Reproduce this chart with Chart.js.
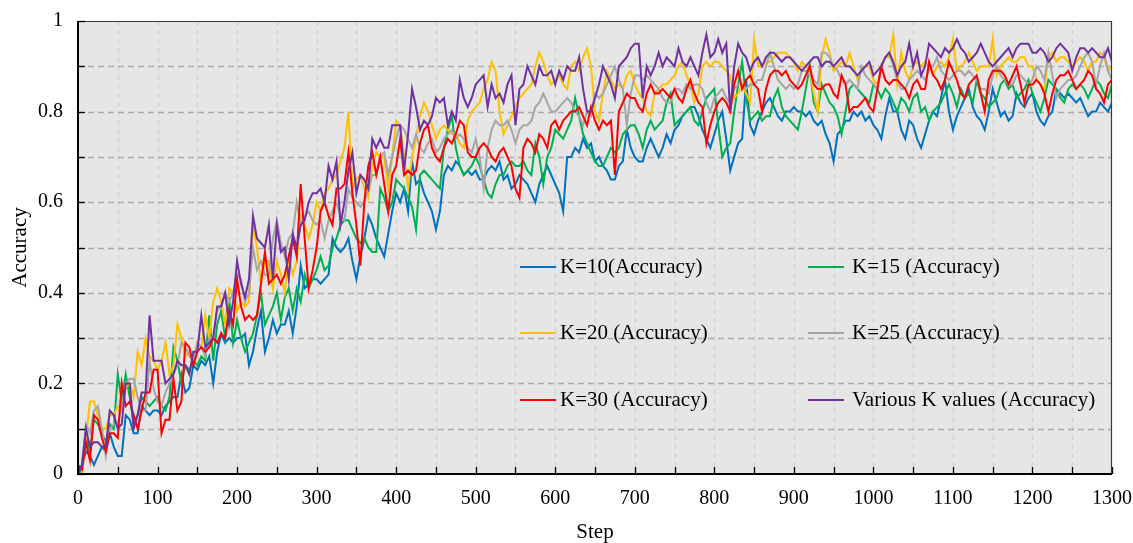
<!DOCTYPE html>
<html>
<head>
<meta charset="utf-8">
<script src="https://cdn.jsdelivr.net/npm/chart.js@4.4.1/dist/chart.umd.min.js"></script>
<style>
html,body{margin:0;padding:0;background:#fff;}
#wrap{width:1133px;height:543px;position:relative;}
</style>
</head>
<body>
<div id="wrap"><canvas id="c" width="1133" height="543"></canvas></div>
<script>
// ---- categories (training steps, every 5 steps from 0 to 1300) ----
const steps = [];
for (let s = 0; s <= 1300; s += 5) steps.push(s);

// ---- tick labels ----
const xTickLabels = ['0','','100','','200','','300','','400','','500','','600','','700','','800','','900','','1000','','1100','','1200','','1300'];
const yTickLabels = ['0','','0.2','','0.4','','0.6','','0.8','','1'];

// ---- series values (Accuracy) ----
const k10 = [
0.01,0.02,0.05,0.04,0.02,0.04,0.06,0.05,0.09,0.06,0.04,0.04,0.13,0.12,0.09,0.09,0.15,0.14,0.13,0.14,
0.14,0.13,0.15,0.16,0.17,0.17,0.22,0.18,0.19,0.24,0.23,0.25,0.24,0.26,0.20,0.27,0.31,0.29,0.30,0.29,
0.30,0.30,0.31,0.24,0.27,0.32,0.36,0.27,0.30,0.34,0.31,0.33,0.33,0.36,0.31,0.37,0.46,0.41,0.42,0.43,
0.43,0.42,0.43,0.44,0.52,0.50,0.49,0.50,0.52,0.47,0.43,0.48,0.52,0.57,0.55,0.52,0.50,0.48,0.53,0.58,
0.62,0.60,0.63,0.58,0.69,0.64,0.65,0.62,0.60,0.58,0.54,0.58,0.66,0.68,0.67,0.69,0.68,0.66,0.67,0.66,
0.67,0.65,0.65,0.67,0.68,0.67,0.69,0.65,0.66,0.63,0.64,0.66,0.65,0.64,0.62,0.60,0.64,0.66,0.68,0.66,
0.64,0.62,0.58,0.70,0.70,0.72,0.71,0.74,0.72,0.73,0.69,0.70,0.68,0.67,0.65,0.65,0.68,0.69,0.76,0.72,
0.70,0.69,0.69,0.72,0.74,0.72,0.70,0.72,0.75,0.73,0.76,0.77,0.79,0.80,0.81,0.81,0.79,0.76,0.74,0.72,
0.75,0.78,0.80,0.74,0.67,0.70,0.73,0.74,0.87,0.77,0.75,0.78,0.80,0.82,0.83,0.81,0.79,0.78,0.80,0.80,
0.81,0.80,0.80,0.79,0.80,0.78,0.77,0.78,0.75,0.73,0.69,0.75,0.76,0.78,0.78,0.80,0.79,0.80,0.78,0.79,
0.77,0.76,0.74,0.79,0.83,0.80,0.80,0.76,0.74,0.78,0.77,0.74,0.72,0.75,0.78,0.80,0.79,0.83,0.87,0.80,
0.76,0.79,0.81,0.83,0.85,0.81,0.79,0.78,0.76,0.80,0.85,0.82,0.79,0.80,0.78,0.79,0.84,0.82,0.81,0.83,
0.84,0.80,0.78,0.77,0.79,0.80,0.85,0.84,0.83,0.84,0.83,0.82,0.83,0.81,0.79,0.80,0.80,0.82,0.81,0.80,
0.82];
const k15 = [
0.00,0.01,0.08,0.05,0.12,0.11,0.09,0.07,0.11,0.10,0.22,0.16,0.22,0.17,0.11,0.13,0.17,0.16,0.15,0.16,
0.17,0.15,0.14,0.17,0.28,0.25,0.20,0.24,0.23,0.25,0.24,0.26,0.25,0.35,0.25,0.33,0.36,0.30,0.39,0.29,
0.34,0.30,0.27,0.29,0.31,0.35,0.40,0.33,0.35,0.37,0.40,0.34,0.39,0.41,0.36,0.41,0.38,0.44,0.41,0.43,
0.45,0.48,0.45,0.46,0.50,0.52,0.55,0.56,0.56,0.54,0.52,0.51,0.52,0.50,0.49,0.49,0.63,0.61,0.58,0.60,
0.65,0.64,0.63,0.61,0.59,0.54,0.66,0.67,0.66,0.65,0.64,0.63,0.72,0.76,0.79,0.72,0.68,0.66,0.67,0.68,
0.70,0.68,0.65,0.62,0.61,0.64,0.66,0.66,0.68,0.69,0.68,0.68,0.69,0.67,0.66,0.73,0.70,0.64,0.70,0.72,
0.76,0.75,0.74,0.76,0.78,0.83,0.79,0.75,0.73,0.71,0.69,0.68,0.68,0.70,0.72,0.71,0.72,0.75,0.76,0.77,
0.77,0.75,0.72,0.76,0.78,0.76,0.77,0.78,0.82,0.84,0.77,0.78,0.79,0.80,0.81,0.78,0.77,0.80,0.83,0.84,
0.85,0.77,0.70,0.72,0.73,0.80,0.86,0.91,0.83,0.78,0.79,0.80,0.78,0.79,0.79,0.83,0.85,0.81,0.79,0.78,
0.77,0.76,0.80,0.85,0.90,0.82,0.80,0.86,0.84,0.82,0.81,0.79,0.75,0.80,0.85,0.86,0.85,0.84,0.83,0.82,
0.86,0.85,0.83,0.85,0.84,0.82,0.80,0.83,0.82,0.80,0.83,0.84,0.80,0.81,0.78,0.80,0.81,0.82,0.84,0.86,
0.84,0.81,0.85,0.83,0.84,0.82,0.87,0.84,0.83,0.81,0.82,0.83,0.86,0.87,0.85,0.86,0.83,0.84,0.85,0.87,
0.84,0.82,0.80,0.83,0.87,0.86,0.85,0.83,0.82,0.85,0.86,0.85,0.86,0.85,0.83,0.85,0.87,0.86,0.84,0.83,
0.86];
const k20 = [
0.00,0.00,0.08,0.16,0.16,0.13,0.10,0.10,0.13,0.13,0.15,0.14,0.19,0.20,0.17,0.27,0.24,0.30,0.26,0.25,
0.23,0.25,0.29,0.22,0.24,0.33,0.30,0.26,0.27,0.25,0.29,0.28,0.35,0.30,0.38,0.41,0.38,0.33,0.41,0.40,
0.36,0.38,0.37,0.38,0.55,0.50,0.42,0.47,0.47,0.41,0.47,0.44,0.40,0.48,0.44,0.47,0.57,0.55,0.52,0.55,
0.60,0.58,0.62,0.63,0.65,0.66,0.69,0.72,0.80,0.63,0.65,0.66,0.63,0.61,0.68,0.71,0.70,0.70,0.63,0.70,
0.78,0.77,0.70,0.63,0.70,0.74,0.79,0.82,0.80,0.77,0.74,0.76,0.77,0.76,0.75,0.75,0.73,0.72,0.78,0.80,
0.81,0.82,0.85,0.87,0.91,0.89,0.80,0.75,0.77,0.79,0.81,0.83,0.84,0.85,0.86,0.90,0.93,0.91,0.88,0.86,
0.87,0.88,0.86,0.85,0.90,0.91,0.89,0.92,0.94,0.90,0.80,0.78,0.84,0.89,0.87,0.85,0.86,0.85,0.88,0.89,
0.86,0.84,0.83,0.80,0.79,0.84,0.85,0.86,0.86,0.87,0.88,0.90,0.91,0.88,0.86,0.82,0.84,0.90,0.91,0.90,
0.91,0.91,0.90,0.89,0.88,0.83,0.84,0.86,0.84,0.82,0.96,0.90,0.90,0.91,0.91,0.92,0.93,0.93,0.93,0.92,
0.91,0.89,0.91,0.90,0.89,0.84,0.80,0.92,0.96,0.93,0.89,0.90,0.91,0.90,0.93,0.90,0.87,0.89,0.90,0.90,
0.87,0.86,0.90,0.92,0.92,0.97,0.86,0.93,0.89,0.87,0.90,0.91,0.90,0.91,0.90,0.88,0.90,0.91,0.90,0.92,
0.96,0.89,0.90,0.91,0.93,0.91,0.89,0.90,0.90,0.90,0.96,0.88,0.90,0.91,0.92,0.91,0.91,0.92,0.92,0.90,
0.90,0.87,0.86,0.85,0.92,0.93,0.91,0.92,0.92,0.91,0.90,0.91,0.92,0.91,0.89,0.91,0.91,0.93,0.92,0.89,
0.90];
const k25 = [
0.00,0.02,0.11,0.09,0.14,0.15,0.10,0.04,0.10,0.11,0.11,0.15,0.20,0.21,0.21,0.17,0.14,0.14,0.25,0.19,
0.16,0.15,0.18,0.20,0.22,0.24,0.29,0.28,0.26,0.25,0.29,0.28,0.26,0.30,0.30,0.36,0.37,0.40,0.38,0.40,
0.44,0.43,0.38,0.40,0.50,0.45,0.47,0.44,0.44,0.52,0.56,0.51,0.48,0.52,0.53,0.60,0.55,0.57,0.58,0.56,
0.55,0.56,0.52,0.56,0.58,0.60,0.57,0.56,0.63,0.61,0.60,0.59,0.60,0.63,0.66,0.66,0.70,0.71,0.66,0.70,
0.74,0.77,0.76,0.74,0.72,0.75,0.72,0.71,0.73,0.74,0.71,0.72,0.74,0.75,0.76,0.74,0.75,0.74,0.72,0.71,
0.74,0.70,0.63,0.72,0.76,0.78,0.77,0.77,0.78,0.76,0.73,0.76,0.77,0.77,0.78,0.81,0.82,0.84,0.82,0.80,
0.80,0.81,0.82,0.83,0.82,0.80,0.79,0.77,0.80,0.79,0.84,0.83,0.84,0.86,0.88,0.90,0.87,0.85,0.77,0.84,
0.88,0.88,0.87,0.88,0.87,0.86,0.85,0.83,0.82,0.82,0.85,0.85,0.84,0.86,0.85,0.86,0.86,0.85,0.82,0.80,
0.83,0.84,0.85,0.83,0.82,0.85,0.86,0.86,0.85,0.86,0.86,0.87,0.87,0.90,0.93,0.90,0.87,0.86,0.85,0.86,
0.85,0.86,0.89,0.89,0.88,0.87,0.86,0.93,0.93,0.92,0.90,0.89,0.87,0.86,0.87,0.86,0.85,0.90,0.88,0.87,
0.86,0.85,0.90,0.92,0.93,0.90,0.87,0.85,0.85,0.87,0.88,0.89,0.88,0.87,0.89,0.90,0.92,0.89,0.88,0.87,
0.88,0.89,0.89,0.88,0.89,0.88,0.87,0.85,0.85,0.84,0.88,0.90,0.88,0.87,0.86,0.86,0.88,0.88,0.87,0.86,
0.87,0.90,0.89,0.87,0.93,0.88,0.83,0.85,0.86,0.87,0.87,0.88,0.90,0.92,0.93,0.91,0.86,0.90,0.93,0.89,
0.87];
const k30 = [
0.02,0.01,0.07,0.03,0.13,0.12,0.08,0.05,0.09,0.09,0.08,0.20,0.15,0.16,0.13,0.10,0.14,0.18,0.18,0.23,
0.23,0.09,0.12,0.12,0.21,0.14,0.16,0.29,0.28,0.24,0.27,0.28,0.27,0.28,0.30,0.29,0.31,0.30,0.36,0.33,
0.43,0.37,0.34,0.35,0.34,0.35,0.42,0.49,0.42,0.43,0.44,0.42,0.44,0.48,0.52,0.48,0.64,0.52,0.41,0.45,
0.50,0.58,0.60,0.57,0.55,0.63,0.63,0.64,0.71,0.62,0.55,0.46,0.60,0.68,0.71,0.66,0.70,0.64,0.58,0.66,
0.68,0.74,0.66,0.67,0.66,0.67,0.73,0.76,0.77,0.72,0.70,0.69,0.72,0.74,0.73,0.75,0.78,0.77,0.71,0.70,
0.70,0.72,0.73,0.72,0.70,0.69,0.71,0.72,0.70,0.68,0.63,0.61,0.72,0.74,0.73,0.71,0.75,0.74,0.72,0.77,
0.78,0.76,0.78,0.79,0.80,0.80,0.81,0.79,0.77,0.81,0.78,0.76,0.78,0.77,0.78,0.66,0.80,0.82,0.84,0.83,
0.83,0.81,0.80,0.84,0.86,0.84,0.84,0.85,0.84,0.83,0.85,0.83,0.82,0.85,0.87,0.84,0.82,0.81,0.73,0.77,
0.80,0.82,0.83,0.82,0.80,0.86,0.89,0.85,0.87,0.88,0.86,0.85,0.80,0.85,0.88,0.89,0.89,0.88,0.89,0.87,
0.86,0.85,0.86,0.88,0.90,0.86,0.85,0.85,0.86,0.86,0.84,0.83,0.88,0.86,0.80,0.81,0.81,0.82,0.83,0.81,
0.80,0.85,0.90,0.87,0.86,0.87,0.87,0.86,0.85,0.83,0.86,0.87,0.85,0.85,0.91,0.88,0.87,0.85,0.87,0.91,
0.89,0.87,0.84,0.83,0.86,0.87,0.88,0.84,0.80,0.87,0.89,0.89,0.89,0.88,0.86,0.88,0.90,0.86,0.82,0.86,
0.86,0.87,0.86,0.84,0.80,0.84,0.87,0.88,0.88,0.89,0.87,0.85,0.86,0.87,0.89,0.88,0.85,0.84,0.82,0.86,
0.87];
const kVarious = [
0.00,0.02,0.10,0.06,0.07,0.07,0.06,0.06,0.14,0.13,0.10,0.11,0.20,0.20,0.10,0.13,0.18,0.18,0.35,0.25,
0.25,0.25,0.20,0.21,0.22,0.25,0.24,0.24,0.22,0.27,0.27,0.35,0.28,0.29,0.30,0.37,0.37,0.40,0.33,0.38,
0.47,0.42,0.39,0.43,0.57,0.52,0.51,0.50,0.55,0.43,0.55,0.49,0.50,0.43,0.53,0.50,0.55,0.56,0.60,0.62,
0.62,0.63,0.60,0.68,0.65,0.69,0.55,0.60,0.67,0.71,0.62,0.66,0.65,0.63,0.74,0.72,0.74,0.72,0.72,0.77,
0.77,0.77,0.67,0.75,0.85,0.81,0.76,0.78,0.77,0.79,0.83,0.82,0.83,0.77,0.80,0.78,0.87,0.83,0.81,0.83,
0.86,0.87,0.88,0.81,0.86,0.83,0.84,0.82,0.86,0.88,0.77,0.85,0.86,0.90,0.88,0.86,0.90,0.88,0.88,0.89,
0.86,0.89,0.87,0.90,0.89,0.89,0.92,0.85,0.80,0.80,0.83,0.86,0.90,0.88,0.86,0.83,0.90,0.91,0.92,0.94,
0.95,0.95,0.83,0.90,0.88,0.90,0.93,0.90,0.92,0.91,0.90,0.94,0.91,0.90,0.92,0.90,0.88,0.93,0.97,0.92,
0.93,0.96,0.93,0.95,0.80,0.90,0.95,0.93,0.92,0.89,0.91,0.92,0.90,0.92,0.93,0.93,0.92,0.91,0.92,0.92,
0.91,0.90,0.89,0.90,0.91,0.92,0.92,0.90,0.91,0.91,0.90,0.91,0.92,0.90,0.90,0.89,0.88,0.89,0.90,0.91,
0.88,0.89,0.90,0.92,0.93,0.91,0.88,0.90,0.91,0.95,0.90,0.93,0.88,0.90,0.95,0.94,0.93,0.92,0.94,0.93,
0.94,0.96,0.94,0.93,0.91,0.92,0.93,0.95,0.93,0.91,0.90,0.91,0.92,0.93,0.94,0.92,0.94,0.95,0.95,0.95,
0.93,0.93,0.94,0.93,0.91,0.92,0.94,0.95,0.94,0.93,0.89,0.92,0.94,0.94,0.93,0.94,0.93,0.92,0.92,0.94,
0.91];

const seriesNames = ['K=10(Accuracy)','K=15 (Accuracy)','K=20 (Accuracy)','K=25 (Accuracy)','K=30 (Accuracy)','Various K values (Accuracy)'];
const seriesData = [k10, k15, k20, k25, k30, kVarious];
const seriesColors = ['#0070C0','#00B050','#FFC000','#A5A5A5','#FF0000','#7030A0'];

const FONT = '"Liberation Serif", "Times New Roman", serif';
Chart.defaults.font.family = FONT;
Chart.defaults.font.size = 20;
Chart.defaults.color = '#000';

const datasets = seriesData.map((arr, i) => ({
  label: seriesNames[i],
  data: arr.map((v, j) => ({x: steps[j], y: v})),
  borderColor: seriesColors[i],
  backgroundColor: seriesColors[i],
  borderWidth: 2,
  pointRadius: 0,
  tension: 0,
  order: seriesData.length - i
}));

const frame = {
  id: 'frame',
  beforeDraw(chart) {
    const {ctx, chartArea: a, scales: {x, y}} = chart;
    ctx.save();
    ctx.fillStyle = '#e6e6e6';
    ctx.fillRect(a.left, a.top, a.right - a.left, a.bottom - a.top);
    ctx.lineWidth = 1.5;
    ctx.setLineDash([5, 4]);
    ctx.strokeStyle = '#d3d3d3';
    x.ticks.forEach(t => {
      if (t.value <= 0 || t.value >= 1300) return;
      const px = Math.round(x.getPixelForValue(t.value)) + 0.5;
      ctx.beginPath(); ctx.moveTo(px, a.top); ctx.lineTo(px, a.bottom); ctx.stroke();
    });
    ctx.strokeStyle = '#ababab';
    ctx.setLineDash([6, 4]);
    y.ticks.forEach(t => {
      if (t.value <= 0 || t.value >= 1) return;
      const py = Math.round(y.getPixelForValue(t.value)) + 0.5;
      ctx.beginPath(); ctx.moveTo(a.left, py); ctx.lineTo(a.right, py); ctx.stroke();
    });
    ctx.restore();
  },
  afterDatasetsDraw(chart) {
    const {ctx, chartArea: a, scales: {x, y}} = chart;
    ctx.save();
    ctx.setLineDash([]);
    ctx.strokeStyle = '#3a3a3a';
    ctx.lineWidth = 1.2;
    ctx.beginPath();
    ctx.moveTo(a.left, a.top + 0.5); ctx.lineTo(a.right - 0.5, a.top + 0.5); ctx.lineTo(a.right - 0.5, a.bottom);
    ctx.stroke();
    ctx.strokeStyle = '#000';
    ctx.lineWidth = 2;
    ctx.beginPath();
    ctx.moveTo(a.left, a.top); ctx.lineTo(a.left, a.bottom); ctx.lineTo(a.right, a.bottom);
    ctx.stroke();
    ctx.lineWidth = 1.3;
    x.ticks.forEach(t => {
      const px = Math.round(x.getPixelForValue(t.value)) + 0.5;
      ctx.beginPath(); ctx.moveTo(px, a.bottom); ctx.lineTo(px, a.bottom - 7); ctx.stroke();
    });
    y.ticks.forEach(t => {
      const py = Math.round(y.getPixelForValue(t.value)) + 0.5;
      ctx.beginPath(); ctx.moveTo(a.left, py); ctx.lineTo(a.left + 7, py); ctx.stroke();
    });
    const cols = [{lx: 520, tx: 560}, {lx: 808, tx: 852}];
    const rows = [267, 333, 400];
    ctx.font = '21px ' + FONT;
    ctx.textBaseline = 'middle';
    ctx.textAlign = 'left';
    seriesNames.forEach((name, i) => {
      const c = cols[i % 2], r = rows[Math.floor(i / 2)];
      ctx.strokeStyle = seriesColors[i];
      ctx.lineWidth = 2.2;
      ctx.beginPath(); ctx.moveTo(c.lx, r); ctx.lineTo(c.lx + 36, r); ctx.stroke();
      ctx.fillStyle = '#000';
      ctx.fillText(name, c.tx, r);
    });
    ctx.restore();
  }
};

new Chart(document.getElementById('c'), {
  type: 'line',
  data: {datasets},
  options: {
    responsive: false,
    animation: false,
    layout: {padding: {top: 21, right: 21, left: 0, bottom: 0}},
    plugins: {legend: {display: false}, tooltip: {enabled: false}},
    scales: {
      x: {
        type: 'linear', min: 0, max: 1300,
        grid: {display: false, drawTicks: false},
        border: {display: false},
        ticks: {stepSize: 50, padding: 13, maxRotation: 0, autoSkip: false,
          callback: v => xTickLabels[Math.round(v / 50)] ?? ''},
        title: {display: true, text: 'Step', font: {size: 21, lineHeight: 1.0}, padding: {top: 0, bottom: 0}},
        afterFit: s => { s.height = 69; s.paddingLeft = 0; s.paddingRight = 0; }
      },
      y: {
        min: 0, max: 1,
        grid: {display: false, drawTicks: false},
        border: {display: false},
        ticks: {stepSize: 0.1, padding: 15, autoSkip: false,
          callback: v => yTickLabels[Math.round(v * 10)] ?? ''},
        title: {display: true, text: 'Accuracy', font: {size: 21, lineHeight: 1.0}, padding: {top: 10, bottom: 0}},
        afterFit: s => { s.width = 78; s.paddingTop = 0; s.paddingBottom = 0; }
      }
    }
  },
  plugins: [frame]
});
</script>
</body>
</html>
